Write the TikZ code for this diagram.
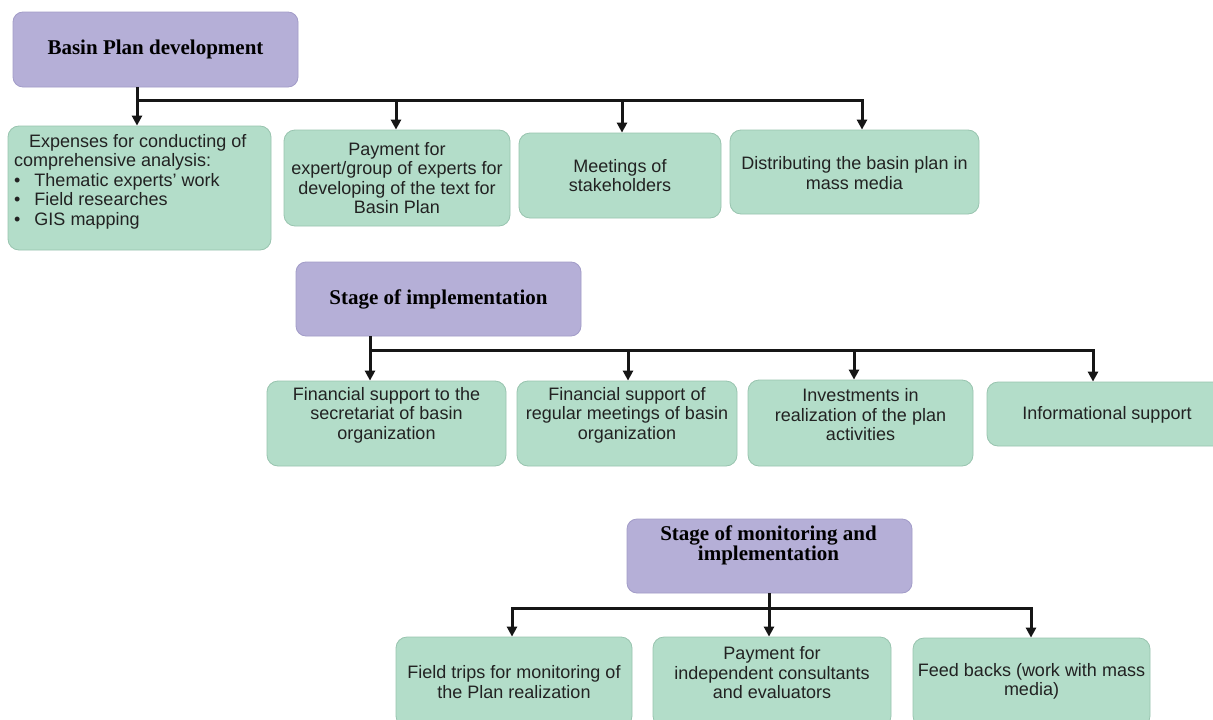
\documentclass[tikz,border=0pt]{standalone}
\usepackage{fontspec}
\setmainfont{Liberation Sans}
\newfontfamily\headfont{Liberation Serif}
\usetikzlibrary{arrows.meta}

\definecolor{hdrfill}{RGB}{181,175,215}
\definecolor{hdrline}{RGB}{162,156,200}
\definecolor{boxfill}{RGB}{179,221,201}
\definecolor{boxline}{RGB}{152,196,175}
\definecolor{inkline}{RGB}{22,22,22}
\definecolor{bodyink}{RGB}{34,34,34}

\begin{document}
\begin{tikzpicture}[x=1pt,y=-1pt,
  hdr/.style={draw=hdrline, fill=hdrfill, line width=0.8pt, rounded corners=10pt,
    inner sep=0pt, font=\headfont\bfseries\fontsize{21}{21}\selectfont, text=black, align=center},
  gbox/.style={draw=boxline, fill=boxfill, line width=0.8pt, rounded corners=11pt, inner sep=0pt},
  txt/.style={inner sep=0pt, align=center, text=bodyink, font=\fontsize{18}{19.5}\selectfont},
  conn/.style={draw=inkline, line width=3pt},
  arr/.style={conn, -{Triangle[length=10pt,width=10pt]}},
  arr2/.style={conn, {Triangle[length=10pt,width=10pt]}-{Triangle[length=10pt,width=10pt]}}
]
\useasboundingbox (0,0) rectangle (1213,720);
\clip (0,0) rectangle (1213,720);
\fill[white] (0,0) rectangle (1213,720);

% ---------- Stage 1: plan development ----------
\node[hdr, minimum width=285pt, minimum height=75pt] (h1) at (155.5,49.5) {Basin Plan development};

\node[gbox, minimum width=263pt, minimum height=124pt] (b1) at (139.5,188) {};
\node[gbox, minimum width=226pt, minimum height=96pt]  (b2) at (397,178) {};
\node[gbox, minimum width=202pt, minimum height=85pt]  (b3) at (620,175.5) {};
\node[gbox, minimum width=249pt, minimum height=84pt]  (b4) at (854.5,172) {};

\node[txt, align=left, anchor=west] (l1) at (14,181.5)
  {\hspace*{15pt}Expenses for conducting of\\
   comprehensive analysis:\\
   \textbullet\hspace{14pt}Thematic experts’ work\\
   \textbullet\hspace{14pt}Field researches\\
   \textbullet\hspace{14pt}GIS mapping};
\node[txt] (l2) at (397,178) {Payment for\\expert/group of experts for\\developing of the text for\\Basin Plan};
\node[txt] (l3) at (620,175.5) {Meetings of\\stakeholders};
\node[txt] (l4) at (854.5,173) {Distributing the basin plan in\\mass media};

\coordinate (p1) at (137,100);
\coordinate (p2) at (396,100);
\coordinate (p3) at (622,100);
\coordinate (p4) at (862,100);
\draw[conn] (h1.south -| p1) -- (p1);
\draw[arr2] (b1.north -| p1) -- (p1) -- (p4) -- (p4 |- b4.north);
\draw[arr] (p2) -- (p2 |- b2.north);
\draw[arr] (p3) -- (p3 |- b3.north);

% ---------- Stage 2: implementation ----------
\node[hdr, minimum width=285pt, minimum height=74pt] (h2) at (438.5,299) {Stage of implementation};

\node[gbox, minimum width=239pt, minimum height=85pt] (b5) at (386.5,423.5) {};
\node[gbox, minimum width=220pt, minimum height=85pt] (b6) at (627,423.5) {};
\node[gbox, minimum width=225pt, minimum height=86pt] (b7) at (860.5,423) {};
\node[gbox, minimum width=240pt, minimum height=64pt] (b8) at (1107,414) {};

\node[txt] (l5) at (386.5,415) {Financial support to the\\secretariat of basin\\organization};
\node[txt] (l6) at (627,415) {Financial support of\\regular meetings of basin\\organization};
\node[txt] (l7) at (860.5,415) {Investments in\\realization of the plan\\activities};
\node[txt] (l8) at (1107,415) {Informational support};

\coordinate (p5) at (370,350);
\coordinate (p6) at (628,350);
\coordinate (p7) at (854,350);
\coordinate (p8) at (1093,350);
\draw[conn] (h2.south -| p5) -- (p5);
\draw[arr2] (b5.north -| p5) -- (p5) -- (p8) -- (p8 |- b8.north);
\draw[arr] (p6) -- (p6 |- b6.north);
\draw[arr] (p7) -- (p7 |- b7.north);

% ---------- Stage 3: monitoring ----------
\node[hdr, minimum width=285pt, minimum height=74pt] (h3) at (769.5,556) {};
\node[txt, font=\headfont\bfseries\fontsize{21}{20}\selectfont, text=black] (l0) at (768.5,545)
  {Stage of monitoring and\\implementation};

\node[gbox, minimum width=236pt, minimum height=90pt] (b9)  at (514,682) {};
\node[gbox, minimum width=238pt, minimum height=90pt] (b10) at (772,682) {};
\node[gbox, minimum width=237pt, minimum height=89pt] (b11) at (1031.5,682.5) {};

\node[txt] (l9)  at (514,682) {Field trips for monitoring of\\the Plan realization};
\node[txt] (l10) at (772,673) {Payment for\\independent consultants\\and evaluators};
\node[txt] (l11) at (1031.5,681.5) {Feed backs (work with mass\\media)};

\coordinate (p9)  at (512,608);
\coordinate (p10) at (769,608);
\coordinate (p11) at (1031,608);
\draw[conn] (h3.south -| p10) -- (p10);
\draw[arr2] (b9.north -| p9) -- (p9) -- (p11) -- (p11 |- b11.north);
\draw[arr] (p10) -- (p10 |- b10.north);
\end{tikzpicture}
\end{document}
